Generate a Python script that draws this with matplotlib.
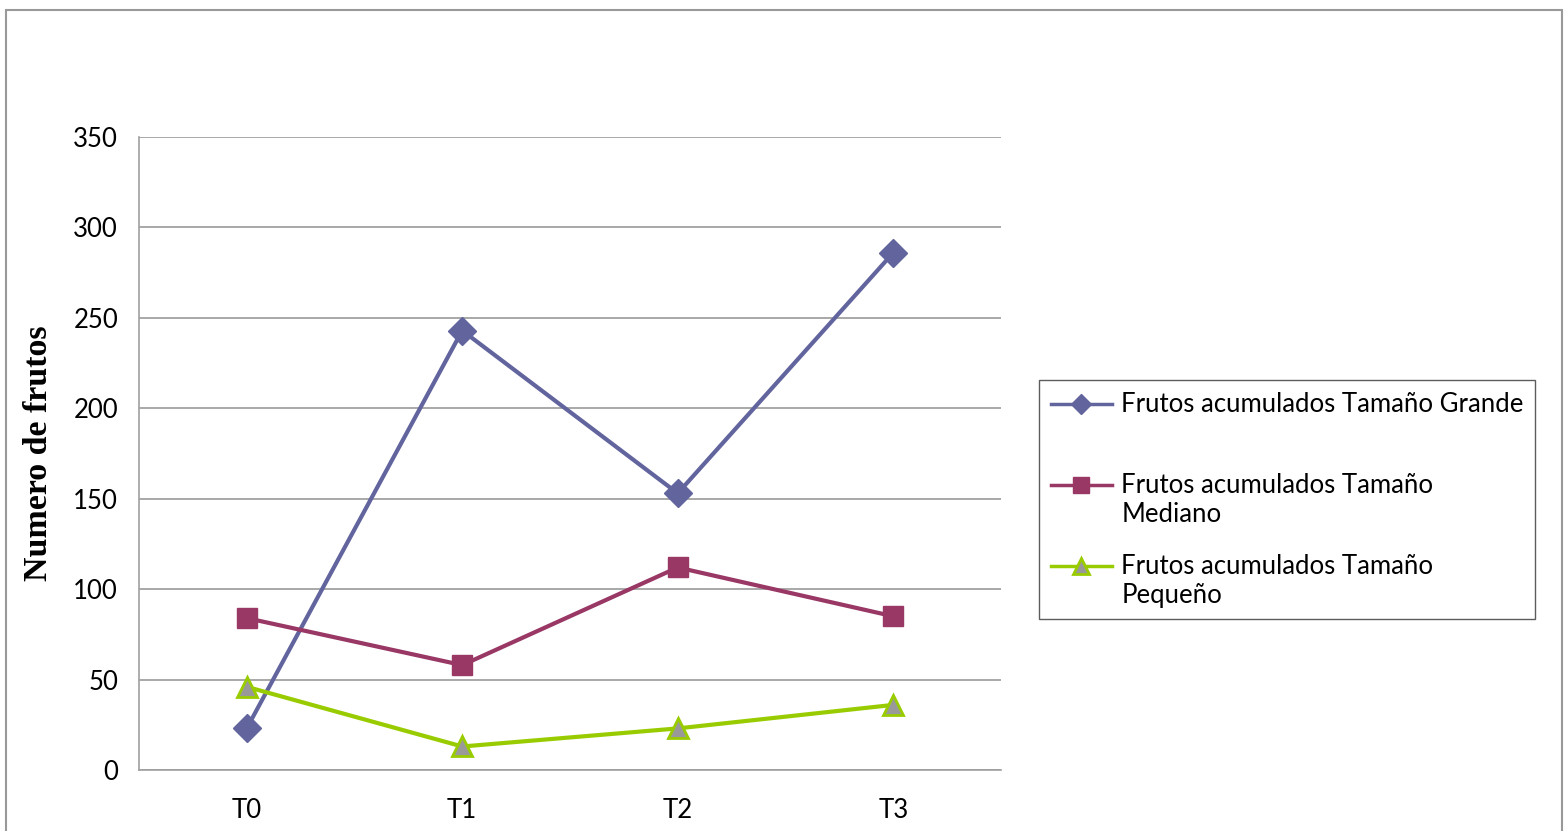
import numpy as np
import matplotlib.pyplot as plt
from matplotlib.patches import Rectangle

categories = ["T0", "T1", "T2", "T3"]
grande = [23, 243, 153, 286]
mediano = [84, 58, 112, 85]
pequeno = [46, 13, 23, 36]
labels = ["Frutos acumulados Tamaño Grande\n ",
          "Frutos acumulados Tamaño\nMediano",
          "Frutos acumulados Tamaño\nPequeño"]
y_ticks = [0, 50, 100, 150, 200, 250, 300, 350]

plt.rcParams['font.family'] = ['Lato', 'DejaVu Sans']
fs = 18.5

fig = plt.figure(figsize=(15.68, 8.31), dpi=100)
ax = fig.add_axes([0.0886, 0.0734, 0.5498, 0.7617])

x = range(len(categories))
ax.plot(x, grande, color='#62649E', linewidth=3, marker='D', markersize=14,
        markerfacecolor='#62649E', markeredgecolor='#62649E', label=labels[0], zorder=3)
ax.plot(x, mediano, color='#993765', linewidth=3, marker='s', markersize=15,
        markerfacecolor='#993765', markeredgecolor='#993765', label=labels[1], zorder=3)
ax.plot(x, pequeno, color='#99CC00', linewidth=3, marker='^', markersize=15,
        markerfacecolor='#999999', markeredgecolor='#99CC00', markeredgewidth=2,
        label=labels[2], zorder=3)

ax.set_xlim(-0.5, 3.5)
ax.set_ylim(0, 350)
ax.set_xticks(list(x))
ax.set_xticklabels(categories)
ax.set_yticks(y_ticks)
ax.tick_params(length=0, labelsize=fs)
ax.tick_params(axis='y', pad=15)
ax.tick_params(axis='x', pad=20)
ax.grid(axis='y', color='#999999', linewidth=1.2)
ax.set_axisbelow(True)
for s in ['top', 'right']:
    ax.spines[s].set_visible(False)
for s in ['left', 'bottom']:
    ax.spines[s].set_color('#A0A0A0')
    ax.spines[s].set_linewidth(1.2)

ax.set_ylabel("Numero de frutos", family='Liberation Serif', fontweight='bold',
              fontsize=24.5, labelpad=14)

leg = ax.legend(loc='upper left', bbox_to_anchor=(1.044, 0.616), fontsize=fs,
                frameon=True, fancybox=False, edgecolor='#333333',
                handlelength=2.4, handletextpad=0.35, labelspacing=1.05,
                borderpad=0.45, borderaxespad=0, markerscale=0.75)
leg.get_frame().set_linewidth(1)
# put the keys next to the first line of each label
for h in leg.legend_handles:
    h.set_ydata(np.asarray(h.get_ydata()) + 0.6 * fs)
    h.set_linewidth(2.5)

fig.patches.append(Rectangle((0.004, -0.01), 0.992, 0.998, transform=fig.transFigure,
                             fill=False, edgecolor='#999999', linewidth=1.5))

fig.savefig("out.png", dpi=100)
